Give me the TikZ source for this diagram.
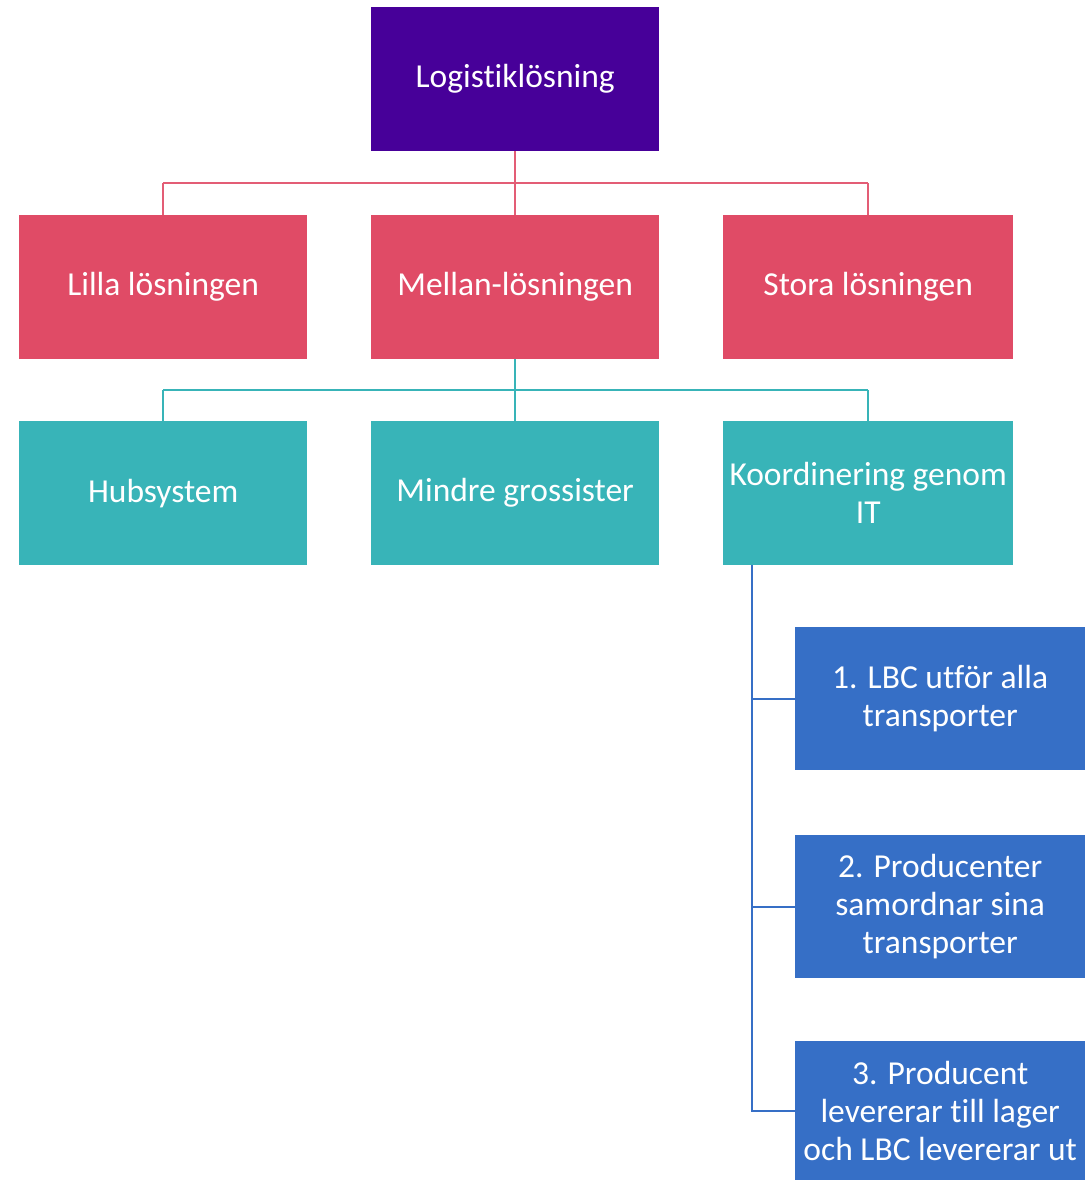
\documentclass[tikz,border=0pt]{standalone}
\usepackage{fontspec}
\setmainfont[Ligatures={NoCommon}]{Carlito}
\definecolor{rootfill}{HTML}{470099}
\definecolor{pinkfill}{HTML}{E04B66}
\definecolor{tealfill}{HTML}{38B4B8}
\definecolor{bluefill}{HTML}{366FC6}
\begin{document}
\begin{tikzpicture}[x=1pt,y=-1pt,
  box/.style={draw=none, minimum width=288pt, minimum height=144pt, inner sep=0pt,
    text=white, align=center, font=\fontsize{33.5}{38}\selectfont, anchor=north west},
  root/.style={box, fill=rootfill},
  lvla/.style={box, fill=pinkfill},
  lvlb/.style={box, fill=tealfill},
  lvlc/.style={box, fill=bluefill, minimum width=290pt, minimum height=143pt},
  pinkline/.style={draw=pinkfill!90!white, line width=2pt},
  tealline/.style={draw=tealfill, line width=2pt},
  blueline/.style={draw=bluefill, line width=2pt}]
\useasboundingbox (0,0) rectangle (1089,1180);

% top level
\node[root] (top) at (371,7) {Logistiklösning};

% second level
\node[lvla] (lilla) at (19,215) {Lilla lösningen};
\node[lvla] (mellan) at (371,215) {Mellan-lösningen};
\node[lvla, minimum width=290pt] (stora) at (723,215) {Stora lösningen};

% third level
\node[lvlb] (hub) at (19,421) {Hubsystem};
\node[lvlb] (mindre) at (371,421) {Mindre grossister};
\node[lvlb, minimum width=290pt] (koord) at (723,421) {Koordinering genom\\IT};

% fourth level
\node[lvlc] (alt1) at (795,627) {1. LBC utför alla\\transporter};
\node[lvlc] (alt2) at (795,835) {2. Producenter\\samordnar sina\\transporter};
\node[lvlc, minimum height=139pt] (alt3) at (795,1041) {3. Producent\\levererar till lager\\och LBC levererar ut};

% connectors from the root
\coordinate (ya) at (0,183);
\draw[pinkline] (top.south) -- (top.south |- ya);
\draw[pinkline] (lilla.north |- ya) -- (stora.north |- ya);
\draw[pinkline] (lilla.north |- ya) -- (lilla.north);
\draw[pinkline] (mellan.north |- ya) -- (mellan.north);
\draw[pinkline] (stora.north |- ya) -- (stora.north);

% connectors from the middle solution
\coordinate (yb) at (0,390);
\draw[tealline] (mellan.south) -- (mellan.south |- yb);
\draw[tealline] (hub.north |- yb) -- (koord.north |- yb);
\draw[tealline] (hub.north |- yb) -- (hub.north);
\draw[tealline] (mindre.north |- yb) -- (mindre.north);
\draw[tealline] (koord.north |- yb) -- (koord.north);

% connectors from the IT coordination
\coordinate (xc) at (752,0);
\draw[blueline] (koord.south -| xc) |- (alt3.west);
\draw[blueline] (xc |- alt1.west) -- (alt1.west);
\draw[blueline] (xc |- alt2.west) -- (alt2.west);
\end{tikzpicture}
\end{document}
